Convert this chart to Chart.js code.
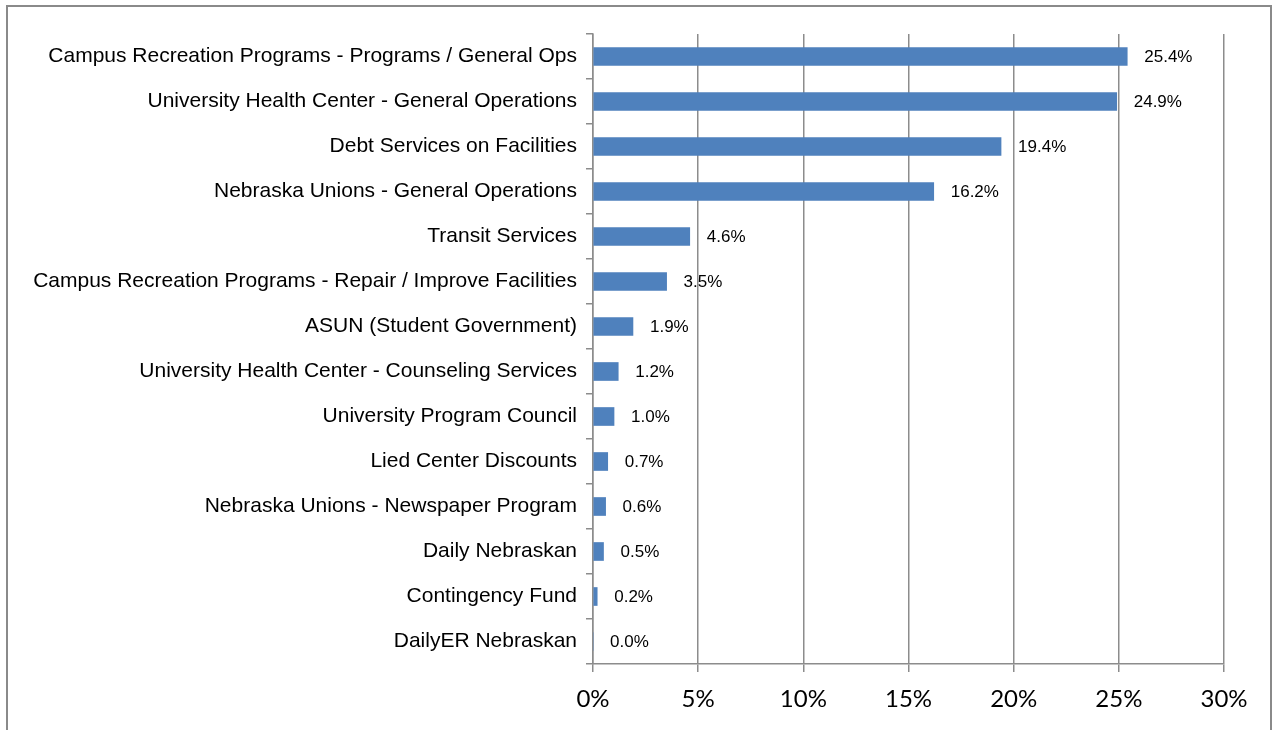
<!DOCTYPE html>
<html>
<head>
<meta charset="utf-8">
<script src="https://cdn.jsdelivr.net/npm/chart.js@4.4.0/dist/chart.umd.min.js"></script>
<style>
  html, body { margin: 0; padding: 0; background: #fff; overflow: hidden; }
  #wrap { position: relative; width: 1279px; height: 730px; }
  #frame { position: absolute; left: 6px; top: 5px; width: 1266px; height: 740px; border: 2px solid #8a8a8a; box-sizing: border-box; }
  canvas { position: absolute; left: 0; top: 0; }
</style>
</head>
<body>
<div id="wrap">
  <div id="frame"></div>
  <canvas id="feeChart" width="1279" height="730"></canvas>
</div>
<script>
var categories = [
  'Campus Recreation Programs - Programs / General Ops',
  'University Health Center - General Operations',
  'Debt Services on Facilities',
  'Nebraska Unions - General Operations',
  'Transit Services',
  'Campus Recreation Programs - Repair / Improve Facilities',
  'ASUN (Student Government)',
  'University Health Center - Counseling Services',
  'University Program Council',
  'Lied Center Discounts',
  'Nebraska Unions - Newspaper Program',
  'Daily Nebraskan',
  'Contingency Fund',
  'DailyER Nebraskan'
];
var shares = [25.4, 24.9, 19.4, 16.2, 4.6, 3.5, 1.9, 1.2, 1.0, 0.7, 0.6, 0.5, 0.2, 0.0];
var xTicks = [0, 5, 10, 15, 20, 25, 30];

// labels next to the bar ends, like excel does it
var valueLabels = {
  id: 'valueLabels',
  afterDatasetsDraw: function(chart) {
    var ctx = chart.ctx;
    var meta = chart.getDatasetMeta(0);
    ctx.save();
    ctx.font = '17px "Liberation Sans", Arial, sans-serif';
    ctx.fillStyle = '#000';
    ctx.textAlign = 'left';
    ctx.textBaseline = 'middle';
    meta.data.forEach(function(bar, i) {
      ctx.fillText(shares[i].toFixed(1) + '%', bar.x + 17, bar.y + 1);
    });
    ctx.restore();
  }
};

var ctx = document.getElementById('feeChart').getContext('2d');
var myChart = new Chart(ctx, {
  type: 'bar',
  data: {
    labels: categories,
    datasets: [{
      data: shares,
      backgroundColor: '#4f81bd',
      borderWidth: 0,
      barThickness: 18
    }]
  },
  options: {
    indexAxis: 'y',
    responsive: false,
    animation: false,
    layout: { padding: { top: 34, right: 55, left: 0, bottom: 0 } },
    plugins: {
      legend: { display: false },
      tooltip: { enabled: false }
    },
    scales: {
      x: {
        min: 0,
        max: 30,
        afterBuildTicks: function(scale) {
          scale.ticks = xTicks.map(function(v) { return { value: v }; });
        },
        afterFit: function(scale) { scale.height = 66; },
        ticks: {
          color: '#000',
          padding: 13,
          font: { family: 'Lato, "Open Sans", sans-serif', size: 24 },
          callback: function(v) { return v + '%'; }
        },
        grid: { color: '#8c8c8c', lineWidth: 1.5, tickLength: 8 },
        border: { color: '#8c8c8c', width: 1.5 }
      },
      y: {
        afterFit: function(scale) { scale.width = 593; },
        ticks: {
          color: '#000',
          padding: 9,
          font: { family: '"Liberation Sans", Arial, sans-serif', size: 21 }
        },
        grid: { drawOnChartArea: false, color: '#8c8c8c', lineWidth: 1.5, tickLength: 7 },
        border: { color: '#8c8c8c', width: 1.5 }
      }
    }
  },
  plugins: [valueLabels]
});
</script>
</body>
</html>
